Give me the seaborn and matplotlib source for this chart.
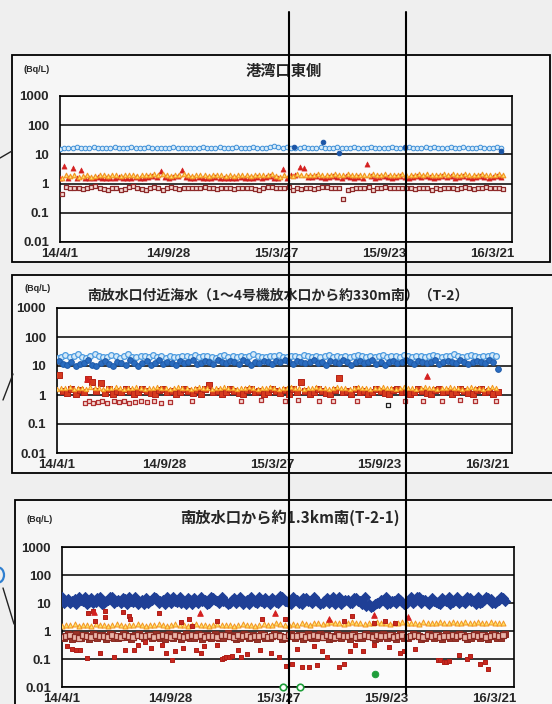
import pandas as pd
import matplotlib.pyplot as plt
from matplotlib.lines import Line2D
from matplotlib.patches import Rectangle, Circle
from matplotlib.ticker import NullLocator
import seaborn as sns

sns.set_style('white')
plt.rcParams['font.family'] = ['Liberation Sans Narrow', 'Liberation Sans', 'Noto Sans CJK JP', 'DejaVu Sans']

W, H = 552, 704
START = pd.Timestamp('2014-04-01')

tick_dates = ['2014-04-01', '2014-09-28', '2015-03-27', '2015-09-23', '2016-03-21']
tick_labels = ['14/4/1', '14/9/28', '15/3/27', '15/9/23', '16/3/21']
y_ticks = [0.01, 0.1, 1, 10, 100, 1000]
y_labels = ['0.01', '0.1', '1', '10', '100', '1000']
titles = ['港湾口東側',
          '南放水口付近海水（1～4号機放水口から約330m南）（T-2）',
          '南放水口から約1.3km南(T-2-1)']
unit = '(Bq/L)'

# weekly sampling schedule (second set shifted by 3 days)
weekly = pd.date_range('2014-04-01', periods=106, freq='7D')
weekly_b = pd.date_range('2014-04-04', periods=106, freq='7D')

# ---- panel 1 : 港湾口東側
p1_blue = [15, 16, 17, 16, 18, 17, 16, 17, 18, 17, 16, 17, 17, 18, 17, 16, 17, 18, 17, 16,
           17, 18, 17, 16, 17, 16, 17, 18, 17, 16, 17, 17, 16, 17, 18, 17, 16, 17, 18, 17,
           16, 17, 18, 16, 17, 17, 18, 17, 16, 17, 18, 19, 18, 17, 18, 17, 16, 17, 18, 17,
           16, 17, 18, 17, 16, 17, 18, 17, 16, 17, 18, 17, 16, 17, 18, 17, 17, 16, 17, 18,
           17, 16, 17, 18, 17, 16, 17, 18, 17, 18, 17, 16, 17, 18, 17, 16, 18, 17, 16, 17,
           18, 17, 16, 17, 18, 17]
p1_dark_days = [389, 438, 465, 575, 735]
p1_dark_vals = [18, 26, 11, 18, 13]
p1_tri = [1.5, 2.0, 1.8, 1.9, 1.7, 1.8, 1.9, 1.7, 1.8, 2.0, 1.9, 1.8, 1.9, 2.0, 1.8, 1.9, 2.0, 1.9, 1.8, 2.0,
          1.9, 2.0, 2.1, 2.0, 2.2, 1.9, 1.8, 1.9, 2.0, 2.1, 1.9, 1.8, 1.9, 2.0, 1.9, 1.8, 1.9, 2.0, 1.9, 1.8,
          1.9, 1.8, 1.9, 2.0, 1.9, 1.8, 1.9, 2.0, 1.9, 2.0, 2.1, 1.8, 1.7, 2.0, 1.9, 1.8, 2.2, 2.0, 1.9, 2.0,
          2.0, 2.1, 2.0, 1.9, 2.0, 2.1, 2.0, 1.9, 2.1, 2.0, 1.9, 2.0, 1.9, 2.0, 2.1, 1.9, 2.0, 2.1, 2.0, 1.9,
          2.0, 2.1, 2.0, 1.9, 2.0, 2.1, 2.0, 2.1, 2.0, 1.9, 2.0, 2.1, 2.0, 2.1, 1.9, 2.0, 2.1, 2.0, 1.9, 2.0,
          2.1, 2.0, 1.9, 2.0, 2.1, 2.0]
p1_red_tri = [1.6, 4.0, 1.6, 3.4, 1.5, 3.0, 1.6, 1.5, 1.6, 1.7, 1.6, 1.5, 1.6, 1.6, 1.7, 1.6, 1.5, 1.6, 1.7, 1.6,
              1.6, 1.7, 1.8, 1.7, 2.6, 1.7, 1.6, 1.7, 1.8, 3.0, 1.7, 1.6, 1.6, 1.7, 1.6, 1.5, 1.6, 1.7, 1.6, 1.5,
              1.6, 1.5, 1.6, 1.7, 1.6, 1.5, 1.6, 1.7, 1.6, 1.7, 1.8, 1.6, 1.5, 3.2, 1.6, 2.0, 1.9, 3.8, 3.5, 1.7,
              1.7, 1.8, 1.7, 1.6, 1.7, 1.8, 1.7, 1.6, 1.8, 1.7, 1.6, 1.7, 1.6, 4.8, 1.8, 1.6, 1.7, 1.8, 1.7, 1.6,
              1.7, 1.8, 1.7, 1.6, 1.7, 1.8, 1.7, 1.8, 1.7, 1.6, 1.7, 1.8, 1.7, 1.8, 1.6, 1.7, 1.8, 1.7, 1.6, 1.7,
              1.8, 1.7, 1.6, 1.7, 1.8, 1.7]
p1_sq = [0.45, 0.75, 0.7, 0.68, 0.72, 0.66, 0.7, 0.75, 0.8, 0.72, 0.65, 0.6, 0.68, 0.72, 0.62, 0.65, 0.75, 0.8, 0.7, 0.66,
         0.6, 0.72, 0.78, 0.7, 0.62, 0.68, 0.75, 0.7, 0.65, 0.72, 0.7, 0.68, 0.72, 0.7, 0.74, 0.7, 0.68, 0.66, 0.7, 0.72,
         0.68, 0.64, 0.7, 0.72, 0.68, 0.7, 0.66, 0.62, 0.7, 0.78, 0.75, 0.7, 0.72, 0.68, 0.76, 0.6, 0.72, 0.64, 0.7, 0.68,
         0.66, 0.7, 0.74, 0.76, 0.72, 0.7, 0.72, 0.29, 0.6, 0.65, 0.72, 0.7, 0.72, 0.74, 0.62, 0.68, 0.7, 0.75, 0.72, 0.7,
         0.68, 0.7, 0.72, 0.7, 0.66, 0.7, 0.72, 0.7, 0.62, 0.7, 0.66, 0.7, 0.72, 0.68, 0.64, 0.7, 0.74, 0.7, 0.66, 0.7,
         0.72, 0.74, 0.68, 0.7, 0.72, 0.66]

# ---- panel 2 : T-2
p2_light = [19, 21, 24, 20, 22, 25, 21, 19, 23, 25, 22, 20, 21, 24, 23, 19, 22, 25, 21, 20,
            23, 22, 20, 24, 21, 23, 19, 22, 21, 20, 23, 22, 21, 24, 20, 22, 23, 21, 19, 22,
            24, 21, 23, 20, 22, 21, 23, 25, 22, 20, 21, 23, 22, 24, 21, 20, 23, 22, 21, 24,
            22, 20, 23, 21, 22, 24, 21, 23, 20, 22, 21, 23, 24, 22, 21, 23, 20, 22, 24, 21,
            23, 22, 21, 24, 23, 20, 22, 23, 21, 22, 24, 23, 21, 22, 23, 25, 22, 21, 23, 24,
            22, 21, 23, 22, 24, 23]
p2_dark = [15, 12, 11, 14, 10, 12, 13, 16, 11, 10, 13, 15, 12, 10, 14, 13, 11, 16, 13, 10,
           13, 15, 11, 13, 16, 12, 14, 13, 11, 15, 13, 14, 16, 12, 13, 15, 14, 12, 16, 14,
           13, 15, 14, 12, 16, 14, 11, 14, 13, 15, 14, 12, 15, 14, 16, 14, 12, 15, 14, 13,
           14, 16, 13, 14, 11, 15, 14, 13, 16, 14, 11, 14, 15, 13, 14, 16, 12, 14, 11, 14,
           15, 13, 14, 16, 14, 12, 15, 14, 13, 14, 16, 12, 14, 15, 14, 13, 16, 14, 12, 14,
           15, 14, 13, 16, 14, 8]
p2_tri = [1.6, 1.8, 1.7, 1.9, 1.6, 1.8, 1.7, 1.6, 1.9, 1.8, 1.7, 1.6, 1.8, 1.7, 1.9, 1.8, 1.6, 1.7, 1.8, 1.9,
          1.7, 1.6, 1.8, 1.7, 1.9, 1.8, 1.7, 1.6, 1.8, 1.9, 1.7, 1.8, 1.6, 1.7, 1.9, 1.8, 1.7, 1.6, 1.8, 1.7,
          1.9, 1.8, 1.7, 1.6, 1.8, 1.7, 1.9, 1.8, 1.6, 1.7, 1.8, 1.9, 1.7, 1.6, 1.8, 1.7, 1.9, 1.8, 1.7, 1.6,
          1.8, 1.7, 1.9, 1.8, 1.7, 1.6, 1.8, 1.9, 1.7, 1.8, 1.6, 1.7, 1.9, 1.8, 1.7, 1.6, 1.8, 1.7, 1.9, 1.8,
          1.7, 1.6, 1.8, 1.9, 1.7, 1.8, 1.6, 1.7, 1.9, 1.8, 1.7, 1.6, 1.8, 1.7, 1.9, 1.8, 1.7, 1.6, 1.8, 1.9,
          1.7, 1.8, 1.6, 1.7, 1.9, 1.8]
p2_red = [5.0, 1.4, 1.2, 1.6, 1.1, 1.5, 1.3, 3.5, 2.8, 1.4, 2.5, 1.2, 1.6, 1.1, 1.4, 1.3, 1.6, 1.4, 1.1, 1.3,
          1.6, 1.4, 1.2, 1.1, 1.5, 1.6, 1.3, 1.4, 1.1, 1.3, 1.6, 1.4, 1.2, 1.5, 1.1, 1.6, 2.2, 1.3, 1.4, 1.1,
          1.3, 1.6, 1.4, 1.2, 1.1, 1.5, 1.6, 1.3, 1.4, 1.1, 1.3, 1.6, 1.4, 1.2, 1.5, 1.1, 1.6, 1.3, 2.8, 1.4,
          1.1, 1.3, 1.6, 1.4, 1.2, 1.1, 1.5, 4.0, 1.3, 1.4, 1.1, 1.6, 1.3, 1.4, 1.1, 1.3, 1.6, 1.4, 1.2, 1.1,
          1.5, 1.6, 1.3, 1.4, 1.1, 1.3, 1.6, 1.4, 1.2, 1.1, 1.5, 1.6, 1.3, 1.4, 1.1, 1.3, 1.6, 1.4, 1.2, 1.1,
          1.5, 1.6, 1.3, 1.4, 1.1, 1.3]
p2_redtri_days = [50, 620]
p2_redtri_vals = [3.6, 4.5]
p2_sq_days = [47, 54, 61, 68, 75, 84, 95, 104, 112, 121, 131, 140, 150, 162, 175, 190,
              226, 308, 342, 382, 404, 439, 462, 502, 583, 613, 645, 675, 700, 735]
p2_sq_vals = [0.55, 0.6, 0.52, 0.58, 0.6, 0.55, 0.62, 0.57, 0.6, 0.55, 0.58, 0.62, 0.56, 0.6, 0.55, 0.58,
              0.6, 0.62, 0.65, 0.63, 0.66, 0.62, 0.6, 0.63, 0.62, 0.6, 0.63, 0.65, 0.62, 0.64]
p2_black_days = [555]
p2_black_vals = [0.45]

# ---- panel 3 : T-2-1
p3_blue_a = [16, 12, 10, 14, 17, 12, 9, 15, 11, 16, 10, 13, 17, 12, 10, 14, 16, 11, 9, 13,
             15, 12, 17, 10, 13, 16, 10, 12, 17, 11, 15, 9, 12, 16, 13, 10, 15, 12, 17, 11,
             10, 15, 12, 9, 13, 16, 11, 17, 10, 12, 15, 11, 18, 12, 10, 16, 13, 9, 15, 12,
             17, 11, 10, 15, 12, 9, 16, 12, 13, 10, 15, 12, 17, 9, 8, 10, 13, 16, 10, 12,
             15, 11, 10, 16, 12, 17, 13, 10, 15, 11, 9, 13, 16, 11, 17, 12, 10, 15, 12, 16,
             11, 17, 14, 10, 13, 15]
p3_blue_b = [10, 14, 12, 9, 13, 16, 11, 10, 15, 9, 12, 16, 10, 13, 15, 9, 12, 16, 11, 9,
             10, 13, 15, 12, 9, 13, 16, 11, 10, 9, 13, 15, 10, 12, 9, 16, 13, 10, 12, 9,
             13, 10, 16, 12, 9, 13, 10, 12, 15, 9, 13, 10, 16, 12, 9, 13, 10, 15, 12, 10,
             13, 9, 12, 10, 16, 12, 9, 13, 10, 15, 12, 9, 8, 7, 9, 10, 13, 9, 12, 10,
             13, 9, 12, 10, 16, 10, 13, 9, 12, 10, 15, 12, 9, 13, 10, 12, 16, 12, 9, 10,
             13, 15, 10, 12, 16, 12]
p3_tri = [1.5, 1.7, 1.6, 1.8, 1.5, 1.6, 1.7, 1.5, 1.8, 1.6, 1.7, 1.5, 1.6, 1.8, 1.7, 1.5, 1.6, 1.7, 1.8, 1.6,
          1.5, 1.7, 1.6, 1.8, 1.7, 1.5, 1.6, 1.8, 1.7, 1.6, 1.5, 1.7, 1.8, 1.6, 1.7, 1.5, 1.6, 1.8, 1.7, 1.6,
          1.7, 1.5, 1.6, 1.8, 1.7, 1.6, 1.5, 1.7, 1.8, 1.6, 1.7, 1.9, 1.8, 1.7, 1.6, 1.8, 1.7, 1.9, 1.8, 1.7,
          2.0, 1.9, 1.8, 2.0, 2.1, 1.9, 2.0, 1.8, 1.9, 2.1, 2.0, 1.9, 1.8, 2.0, 1.9, 2.1, 2.0, 1.9, 1.8, 2.0,
          1.9, 2.1, 2.0, 1.9, 2.0, 1.8, 2.1, 2.0, 1.9, 2.0, 2.1, 1.9, 2.0, 2.1, 2.0, 1.9, 2.1, 2.0, 1.9, 2.1,
          2.0, 1.9, 2.1, 2.0, 1.9, 2.0]
p3_sq_open = [0.6, 0.65, 0.7, 0.62, 0.58, 0.7, 0.66, 0.6, 0.72, 0.64, 0.68, 0.6, 0.7, 0.65, 0.62, 0.7, 0.66, 0.6, 0.72, 0.68,
              0.64, 0.7, 0.6, 0.66, 0.72, 0.65, 0.62, 0.7, 0.68, 0.6, 0.66, 0.72, 0.64, 0.7, 0.62, 0.68, 0.66, 0.6, 0.72, 0.7,
              0.65, 0.62, 0.7, 0.66, 0.72, 0.6, 0.68, 0.65, 0.7, 0.62, 0.66, 0.72, 0.68, 0.6, 0.7, 0.64, 0.66, 0.72, 0.6, 0.68,
              0.7, 0.65, 0.62, 0.72, 0.68, 0.6, 0.7, 0.66, 0.64, 0.72, 0.62, 0.68, 0.7, 0.66, 0.6, 0.72, 0.68, 0.64, 0.7, 0.62,
              0.66, 0.72, 0.6, 0.68, 0.7, 0.65, 0.62, 0.72, 0.66, 0.7, 0.6, 0.68, 0.64, 0.72, 0.66, 0.7, 0.62, 0.68, 0.72, 0.65,
              0.7, 0.62, 0.68, 0.72, 0.66, 0.7]
p3_sq_fill = [0.55, 0.75, 0.5, 0.8, 0.58, 0.7, 0.52, 0.78, 0.56, 0.72, 0.5, 0.76, 0.58, 0.54, 0.8, 0.6, 0.52, 0.74, 0.78, 0.56,
              0.72, 0.54, 0.76, 0.58, 0.5, 0.8, 0.56, 0.74, 0.52, 0.78, 0.58, 0.55, 0.8, 0.5, 0.72, 0.56, 0.76, 0.54, 0.58, 0.82,
              0.7, 0.52, 0.58, 0.8, 0.55, 0.74, 0.5, 0.78, 0.58, 0.56, 0.8, 0.72, 0.52, 0.58, 0.76, 0.55, 0.74, 0.5, 0.8, 0.58,
              0.56, 0.78, 0.72, 0.52, 0.58, 0.8, 0.55, 0.74, 0.5, 0.78, 0.58, 0.56, 0.8, 0.72, 0.52, 0.58, 0.76, 0.55, 0.74, 0.5,
              0.8, 0.58, 0.56, 0.78, 0.72, 0.52, 0.58, 0.8, 0.55, 0.74, 0.5, 0.78, 0.58, 0.56, 0.8, 0.72, 0.52, 0.58, 0.76, 0.55,
              0.74, 0.5, 0.8, 0.58, 0.56, 0.78]
p3_red_days = [44, 51, 55, 71, 72, 102, 112, 113, 162, 199, 211, 216, 258, 334, 372,
               8, 16, 24, 30, 42, 64, 86, 105, 120, 127, 139, 148, 167, 174, 184, 189, 202, 224, 232, 237,
               258, 266, 270, 274, 279, 283, 293, 299, 308, 330, 349, 362, 374, 383,
               469, 483, 519, 538, 555,
               391, 399, 411, 424, 419, 433, 441, 461, 469, 480, 488, 502, 519, 544, 563, 569, 588,
               627, 630, 636, 640, 644, 661, 675, 680, 697, 705, 710]
p3_red_vals = [4.3, 5.3, 2.2, 5.0, 3.1, 4.6, 3.5, 2.7, 4.4, 2.1, 2.7, 1.5, 2.3, 2.7, 2.7,
               0.28, 0.23, 0.21, 0.21, 0.11, 0.17, 0.12, 0.21, 0.21, 0.32, 0.41, 0.24, 0.32, 0.16, 0.095, 0.19, 0.25, 0.21, 0.16, 0.28,
               0.32, 0.10, 0.11, 0.12, 0.12, 0.125, 0.21, 0.115, 0.15, 0.21, 0.17, 0.12, 0.055, 0.066,
               2.3, 3.4, 2.0, 2.3, 2.0,
               0.23, 0.05, 0.05, 0.063, 0.30, 0.20, 0.115, 0.05, 0.066, 0.20, 0.32, 0.20, 0.32, 0.26, 0.17, 0.19, 0.23,
               0.095, 0.09, 0.076, 0.08, 0.087, 0.14, 0.10, 0.13, 0.066, 0.076, 0.044]
p3_redtri_days = [53, 230, 355, 444, 519, 577]
p3_redtri_vals = [4.6, 4.3, 4.5, 2.7, 3.7, 3.1]
p3_green_open_days = [368, 397]
p3_green_open_vals = [0.01, 0.01]
p3_green_fill_days = [522]
p3_green_fill_vals = [0.029]


def days(d):
    return START + pd.to_timedelta(d, unit='D')


def px_rect(l, t, r, b):
    return [l / W, 1 - b / H, (r - l) / W, (b - t) / H]


def dots(ax, x, y, marker, s, face, edge, lw=0.7, z=3, clip=True):
    sns.scatterplot(x=x, y=y, ax=ax, marker=marker, s=s, color=face, edgecolor=edge,
                    linewidth=lw, legend=False, zorder=z, clip_on=clip)


def setup(ax, right_days):
    ax.set_facecolor('#fbfbfb')
    ax.set_yscale('log')
    ax.set_ylim(0.01, 1000)
    ax.set_yticks(y_ticks)
    ax.set_yticklabels(y_labels)
    ax.yaxis.set_minor_locator(NullLocator())
    ax.set_xlim(START, days(right_days))
    ax.set_xticks(pd.to_datetime(tick_dates))
    ax.set_xticklabels(tick_labels)
    ax.grid(axis='y', color='black', linewidth=1.1)
    ax.grid(axis='x', visible=False)
    ax.set_axisbelow(True)
    ax.tick_params(axis='x', direction='inout', length=7, width=1.2, color='black', pad=1,
                   labelsize=9.5)
    ax.tick_params(axis='y', length=0, pad=8, labelsize=9.5)
    for lab in ax.get_xticklabels() + ax.get_yticklabels():
        lab.set_fontweight('bold')
    for sp in ax.spines.values():
        sp.set_visible(True)
        sp.set_color('black')
        sp.set_linewidth(1.2)
    ax.set_xlabel('')
    ax.set_ylabel('')


fig = plt.figure(figsize=(W / 100, H / 100), dpi=100)
fig.patch.set_facecolor('#efefef')

# panel frames
for (l, t, r, b) in [(12, 55, 550, 262), (12, 275, 570, 473), (15, 500, 570, 730)]:
    fig.add_artist(Rectangle((l / W, 1 - b / H), (r - l) / W, (b - t) / H, transform=fig.transFigure,
                             facecolor='#f6f6f6', edgecolor='black', linewidth=1.3, zorder=-5))

ax1 = fig.add_axes(px_rect(60, 96, 512, 242))
ax2 = fig.add_axes(px_rect(57, 308, 512, 453))
ax3 = fig.add_axes(px_rect(62, 547, 514, 687))

light_face, light_edge = '#d6eaf8', '#3d8fd8'
dark_blue = '#1b55a6'
tri_face, tri_edge = '#ffe066', '#f29422'
red = '#d42020'
sq_face, sq_edge = '#f6dcd6', '#8e2a2a'

# panel 1
dots(ax1, weekly, p1_blue, 'o', 11, light_face, light_edge)
dots(ax1, days(p1_dark_days), p1_dark_vals, 'o', 11, dark_blue, dark_blue)
dots(ax1, weekly, p1_red_tri, '^', 14, red, red, lw=0.4, z=3)
dots(ax1, weekly_b, p1_tri, '^', 11, tri_face, tri_edge, lw=0.8, z=4)
dots(ax1, weekly_b, p1_sq, 's', 9, sq_face, sq_edge, lw=0.9)
setup(ax1, 753)

# panel 2
dots(ax2, weekly, p2_light, 'o', 17, light_face, '#4d9be0', lw=0.9)
dots(ax2, weekly_b, p2_dark, 'o', 17, '#2a6cc0', '#1f5aa8')
dots(ax2, weekly_b, p2_red, 's', 15, '#d63a1e', '#b52218')
dots(ax2, weekly, p2_tri, '^', 10, tri_face, tri_edge, z=4)
dots(ax2, days(p2_redtri_days), p2_redtri_vals, '^', 16, red, red)
dots(ax2, days(p2_sq_days), p2_sq_vals, 's', 10, sq_face, '#b03030', lw=0.9)
dots(ax2, days(p2_black_days), p2_black_vals, 's', 10, '#ffffff', '#222222', lw=0.9)
setup(ax2, 762)

# panel 3
dots(ax3, weekly, p3_blue_a, 'D', 26, '#1f3f96', '#1f3f96')
dots(ax3, weekly_b, p3_blue_b, 'D', 26, '#1f3f96', '#1f3f96')
dots(ax3, weekly, p3_tri, '^', 13, tri_face, tri_edge)
dots(ax3, weekly_b, p3_sq_fill, 's', 18, '#9c3428', '#8a2a22')
dots(ax3, weekly, p3_sq_open, 's', 14, '#e8b4a8', '#8a2a22', lw=0.9)
dots(ax3, days(p3_red_days), p3_red_vals, 's', 11, '#c8281e', '#b01e18', z=4)
dots(ax3, days(p3_redtri_days), p3_redtri_vals, '^', 16, red, red, z=4)
dots(ax3, days(p3_green_open_days), p3_green_open_vals, 'o', 22, '#ffffff', '#1f9e3a', lw=1.2, z=6, clip=False)
dots(ax3, days(p3_green_fill_days), p3_green_fill_vals, 'o', 22, '#1f9e3a', '#1f9e3a', z=6)
setup(ax3, 753)

# titles and units
jp = ['Noto Sans CJK JP', 'DejaVu Sans']
fig.text(284 / W, 1 - 71 / H, titles[0], ha='center', va='center', fontsize=11,
         fontweight='bold', family=jp)
fig.text(278 / W, 1 - 296 / H, titles[1], ha='center', va='center', fontsize=10,
         fontweight='bold', family=jp)
fig.text(290 / W, 1 - 518 / H, titles[2], ha='center', va='center', fontsize=11,
         fontweight='bold', family=jp)
for (x, y) in [(37, 70), (38, 288), (40, 519)]:
    fig.text(x / W, 1 - y / H, unit, ha='center', va='center', fontsize=6.5, fontweight='bold')

# overlaid annotation lines from the page
for (x, y0, y1) in [(289, 12, 704), (406, 12, 694)]:
    fig.add_artist(Line2D([x / W, x / W], [1 - y0 / H, 1 - y1 / H], transform=fig.transFigure,
                          color='black', linewidth=1.5, zorder=10))
for (x0, y0, x1, y1) in [(0, 158, 12, 151), (3, 400, 13, 374), (3, 588, 14, 624)]:
    fig.add_artist(Line2D([x0 / W, x1 / W], [1 - y0 / H, 1 - y1 / H], transform=fig.transFigure,
                          color='#222222', linewidth=1.0, zorder=10))
fig.add_artist(Circle((-2 / W, 1 - 575 / H), 6 / W, transform=fig.transFigure, fill=False,
                      edgecolor='#2f7fd0', linewidth=1.6, zorder=10))

fig.savefig('out.png', dpi=100, facecolor=fig.get_facecolor())
